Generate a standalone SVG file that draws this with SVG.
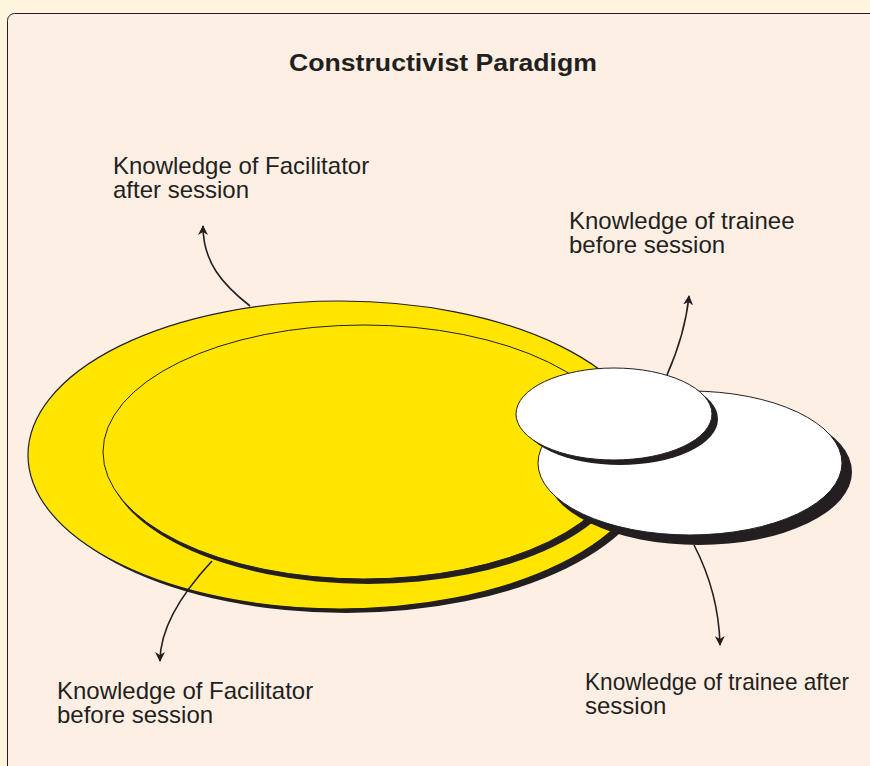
<svg xmlns="http://www.w3.org/2000/svg" width="870" height="766" viewBox="0 0 870 766">
<defs>
<style>
.lbl{font-family:"Liberation Sans",Arial,sans-serif;font-size:24px;fill:#231F20}
.ttl{font-family:"Liberation Sans",Arial,sans-serif;font-size:23px;font-weight:bold;fill:#231F20}
.conn{fill:none;stroke:#231F20;stroke-width:1.6}
.shadow{fill:#231F20}
</style>
<marker id="ah" viewBox="0 0 10 10" refX="9" refY="5" markerWidth="10" markerHeight="10" markerUnits="userSpaceOnUse" orient="auto">
<path d="M0,0 L10,5 L0,10 L3,5 Z" fill="#231F20"/>
</marker>
</defs>
<rect x="0" y="0" width="870" height="766" fill="#FFF5DE"/>
<rect x="7.5" y="13.5" width="880" height="780" rx="7" fill="#FDEFE4" stroke="#231F20" stroke-width="1"/>
<text class="ttl" x="289" y="71" textLength="308" lengthAdjust="spacingAndGlyphs">Constructivist Paradigm</text>
<g id="facilitator-after">
<ellipse class="shadow" cx="346" cy="460" rx="312" ry="153"/>
<ellipse cx="340" cy="455" rx="312" ry="154" fill="#FFE500" stroke="#231F20" stroke-width="1.2"/>
</g>
<g id="facilitator-before">
<ellipse class="shadow" cx="368" cy="457" rx="262" ry="127"/>
<ellipse cx="364" cy="452" rx="261" ry="127" fill="#FFE500" stroke="#231F20" stroke-width="1"/>
</g>
<g id="trainee-after">
<ellipse class="shadow" cx="699" cy="472" rx="153" ry="73"/>
<ellipse cx="690" cy="463" rx="152" ry="72" fill="#FFFFFF" stroke="#231F20" stroke-width="1"/>
</g>
<g id="trainee-before">
<ellipse class="shadow" cx="620" cy="419" rx="98" ry="46"/>
<ellipse cx="614" cy="414" rx="98" ry="46" fill="#FFFFFF" stroke="#231F20" stroke-width="1"/>
</g>
<g id="connectors">
<path class="conn" d="M250,306 C222,284 203,262 203,226" marker-end="url(#ah)"/>
<path class="conn" d="M667,375 C678,350 686,325 689,296" marker-end="url(#ah)"/>
<path class="conn" d="M212,561 C185,590 160,625 160,661" marker-end="url(#ah)"/>
<path class="conn" d="M694,545 C708,572 719,605 720,645" marker-end="url(#ah)"/>
</g>
<g id="labels">
<text class="lbl" x="113" y="174">Knowledge of Facilitator</text>
<text class="lbl" x="113" y="198">after session</text>
<text class="lbl" x="569" y="229">Knowledge of trainee</text>
<text class="lbl" x="569" y="253">before session</text>
<text class="lbl" x="57" y="699">Knowledge of Facilitator</text>
<text class="lbl" x="57" y="723">before session</text>
<text class="lbl" x="585" y="690" textLength="264" lengthAdjust="spacingAndGlyphs">Knowledge of trainee after</text>
<text class="lbl" x="585" y="714">session</text>
</g>
</svg>
